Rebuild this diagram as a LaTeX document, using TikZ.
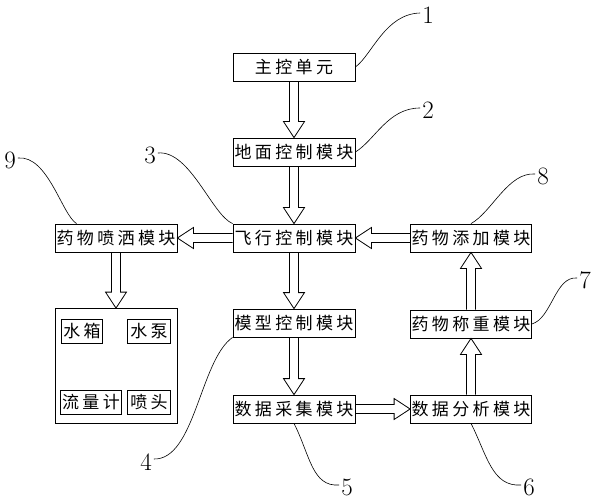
\documentclass[tikz,border=0pt]{standalone}
\usepackage{fontspec}
\newfontfamily\cjk[LetterSpace=20]{Noto Sans CJK SC}
\usetikzlibrary{calc}
\newcommand\myDown[2]{\draw[hol] ($(#1.south)+(-4.5,0)$) -- ($(#2.north)+(-4.5,-16)$) -- ($(#2.north)+(-10.5,-16)$) -- (#2.north) -- ($(#2.north)+(10.5,-16)$) -- ($(#2.north)+(4.5,-16)$) -- ($(#1.south)+(4.5,0)$);}
\newcommand\myUp[2]{\draw[hol] ($(#1.north)+(-4.5,0)$) -- ($(#2.south)+(-4.5,16)$) -- ($(#2.south)+(-10.5,16)$) -- (#2.south) -- ($(#2.south)+(10.5,16)$) -- ($(#2.south)+(4.5,16)$) -- ($(#1.north)+(4.5,0)$);}
\newcommand\myLeft[2]{\draw[hol] ($(#1.west)+(0,-4.5)$) -- ($(#2.east)+(16,-4.5)$) -- ($(#2.east)+(16,-10.5)$) -- (#2.east) -- ($(#2.east)+(16,10.5)$) -- ($(#2.east)+(16,4.5)$) -- ($(#1.west)+(0,4.5)$);}
\newcommand\myRight[2]{\draw[hol] ($(#1.east)+(0,-4.5)$) -- ($(#2.west)+(-16,-4.5)$) -- ($(#2.west)+(-16,-10.5)$) -- (#2.west) -- ($(#2.west)+(-16,10.5)$) -- ($(#2.west)+(-16,4.5)$) -- ($(#1.east)+(0,4.5)$);}
\begin{document}
\begin{tikzpicture}[x=1pt,y=-1pt,
  box/.style={draw, line width=0.8pt, minimum width=122pt, minimum height=28pt, inner sep=0pt, font=\cjk\fontsize{17}{17}\selectfont},
  sbox/.style={draw, line width=0.8pt, minimum height=24pt, inner sep=0pt, font=\cjk\fontsize{17}{17}\selectfont},
  num/.style={font=\fontsize{25}{25}\selectfont, inner sep=0pt},
  lead/.style={line width=0.6pt},
  hol/.style={line width=0.8pt, line join=miter}]
\useasboundingbox (0,0) rectangle (595,500);
% boxes
\node[box] (main) at (294,67) {主控单元};
\node[box] (ground) at (294,152) {地面控制模块};
\node[box] (flight) at (294,238) {飞行控制模块};
\node[box] (spray) at (116,238) {药物喷洒模块};
\node[box, minimum width=121pt] (add) at (471,238) {药物添加模块};
\node[box, minimum width=121pt] (weigh) at (471,324) {药物称重模块};
\node[box] (model) at (294,323) {模型控制模块};
\node[box] (collect) at (294,409) {数据采集模块};
\node[box, minimum width=121pt] (analyze) at (471,409) {数据分析模块};
\node[draw, line width=0.8pt, minimum width=122pt, minimum height=115pt, inner sep=0pt] (big) at (116,366) {};
\node[sbox, minimum width=41pt] (tank) at (82,331) {水箱};
\node[sbox, minimum width=43pt] (pump) at (149,331) {水泵};
\node[sbox, minimum width=61pt] (flow) at (91,402) {流量计};
\node[sbox, minimum width=43pt] (nozzle) at (149,402) {喷头};
% arrows
\myDown{main}{ground}
\myDown{ground}{flight}
\myDown{flight}{model}
\myDown{model}{collect}
\myDown{spray}{big}
\myLeft{flight}{spray}
\myLeft{add}{flight}
\myRight{collect}{analyze}
\myUp{analyze}{weigh}
\myUp{weigh}{add}
% numbers
\node[num] (n1) at (428,15) {1};
\node[num] (n2) at (428,110) {2};
\node[num] (n3) at (150,155) {3};
\node[num] (n9) at (10,160) {9};
\node[num] (n8) at (543,176) {8};
\node[num] (n7) at (585,280) {7};
\node[num] (n4) at (146,462) {4};
\node[num] (n5) at (347,487) {5};
\node[num] (n6) at (529,487) {6};
% leaders
\draw[lead] (main.east) .. controls (372,55) and (385,14) .. ($(n1.west)+(-2,-2)$);
\draw[lead] (ground.east) .. controls (375,140) and (388,108) .. ($(n2.west)+(-2,-2)$);
\draw[lead] ($(n3.east)+(2,-2)$) .. controls (190,150) and (212,215) .. (flight.north west);
\draw[lead] ($(n9.east)+(2,-2)$) .. controls (48,155) and (62,215) .. ($(spray.north west)+(22,0)$);
\draw[lead] ($(n8.west)+(-2,-2)$) .. controls (508,172) and (492,212) .. (add.north);
\draw[lead] ($(n7.west)+(-2,-2)$) .. controls (555,276) and (552,318) .. (weigh.east);
\draw[lead] ($(n4.east)+(2,-3)$) .. controls (195,460) and (200,360) .. (model.south west);
\draw[lead] (collect.south) .. controls (310,455) and (312,487) .. ($(n5.west)+(-2,-2)$);
\draw[lead] (analyze.south) .. controls (487,455) and (492,487) .. ($(n6.west)+(-2,-2)$);
\end{tikzpicture}
\end{document}
